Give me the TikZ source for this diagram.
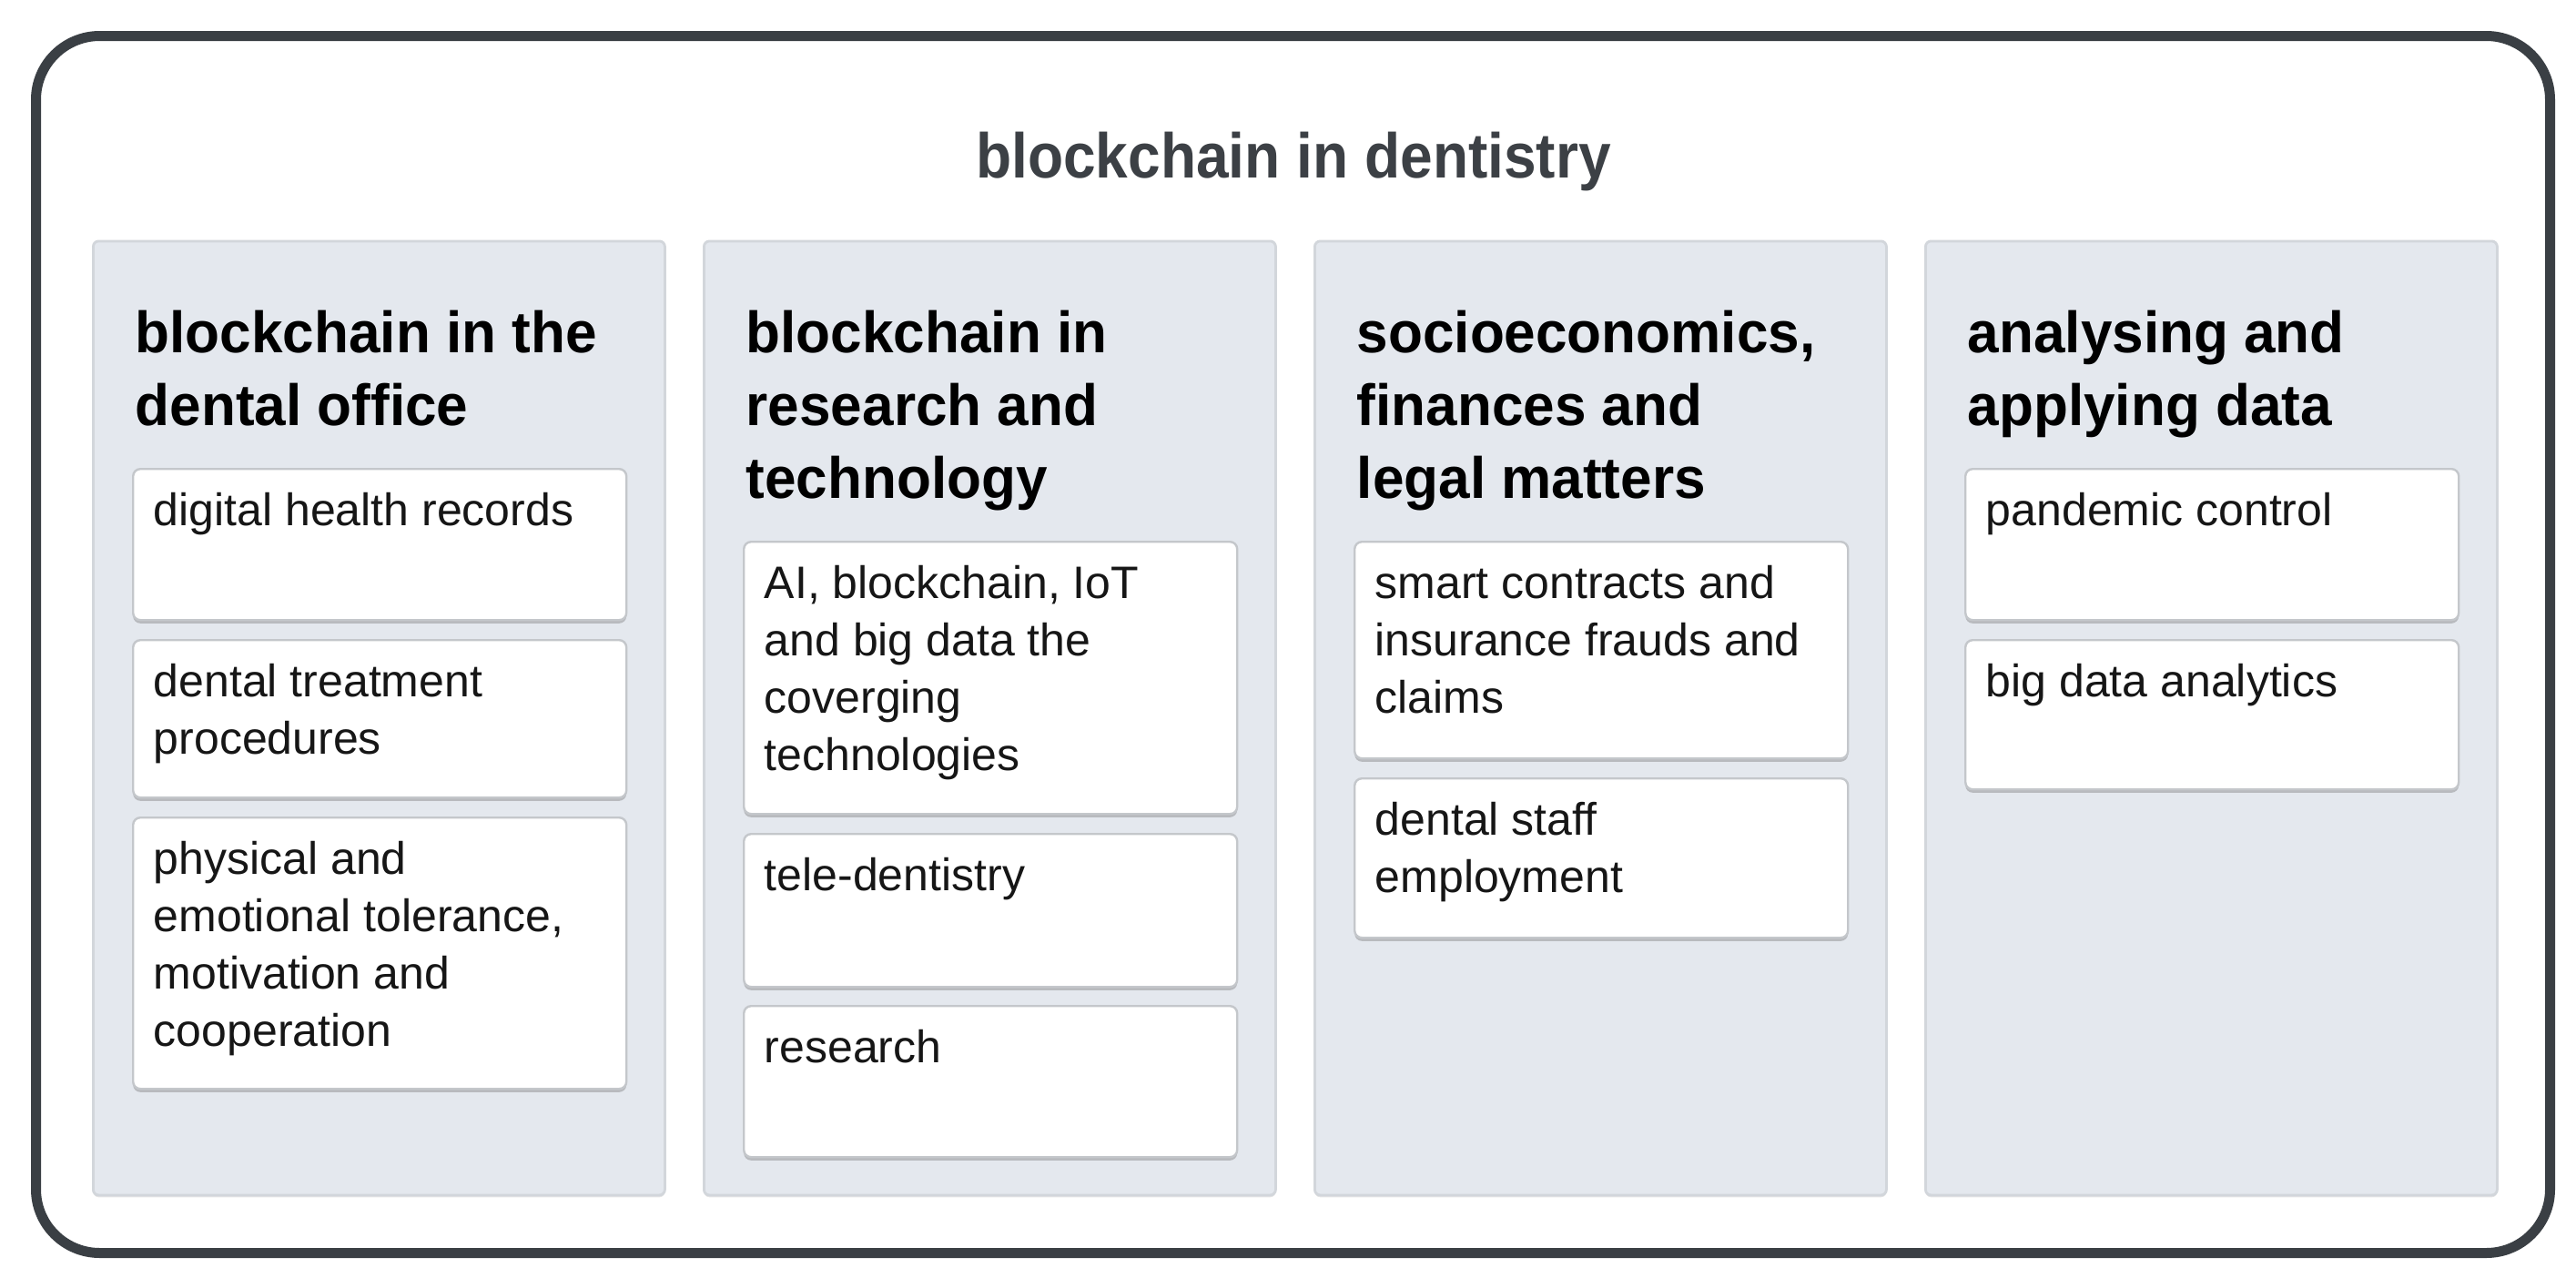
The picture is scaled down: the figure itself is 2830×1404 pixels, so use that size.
\documentclass[tikz,border=0pt]{standalone}
\usepackage{fontspec}
\setmainfont{Liberation Sans}
\newfontfamily\titlefont{Liberation Sans}[FakeStretch=0.92]
\newfontfamily\headfont{Liberation Sans}[FakeStretch=0.97]
\usetikzlibrary{shadows}
\definecolor{framecol}{HTML}{3A3F44}
\definecolor{colfill}{HTML}{E4E8EE}
\definecolor{colline}{HTML}{D2D6DB}
\definecolor{cardline}{HTML}{C4C7CB}
\definecolor{titlecol}{HTML}{3C4045}
\definecolor{txtcol}{HTML}{161616}
\newcommand{\headtxt}[1]{\parbox[t]{150pt}{\raggedright\headfont\fontsize{16pt}{20pt}\selectfont\bfseries #1}}
\newcommand{\cardtxt}[1]{\parbox[t]{130pt}{\raggedright\fontsize{12.5pt}{15.75pt}\selectfont #1}}
\newcommand{\mycard}[5]{%
  \node[cardbox, minimum height=#4] (#1) at (#2,#3) {};
  \node[cardtext] (#1-t) at ([xshift=5.75pt, yshift=-15.75pt]#1.north west) {\cardtxt{#5}};
}
\begin{document}
\begin{tikzpicture}[x=0.25pt,y=-0.25pt,
  frame/.style={draw=framecol, line width=2.75pt, rounded corners=17.5pt, fill=white,
    inner sep=0pt, anchor=north west, minimum width=690.5pt, minimum height=334.25pt},
  colbox/.style={fill=colfill, draw=colline, line width=0.7pt, rounded corners=1.5pt,
    minimum width=157pt, minimum height=262pt, anchor=north west, inner sep=0pt,
    drop shadow={shadow xshift=0pt, shadow yshift=-0.6pt, opacity=0.2}},
  cardbox/.style={fill=white, draw=cardline, line width=0.6pt, rounded corners=2pt,
    minimum width=135.5pt, anchor=north west, inner sep=0pt,
    drop shadow={shadow xshift=0pt, shadow yshift=-0.9pt, opacity=0.35, fill=black!60}},
  cardtext/.style={anchor=base west, inner sep=0pt, text=txtcol},
  headtext/.style={anchor=base west, inner sep=0pt, text=black},
  titletext/.style={anchor=base, inner sep=0pt, text=titlecol,
    font=\titlefont\bfseries\fontsize{17.4pt}{20pt}\selectfont}]
\useasboundingbox (0,0) rectangle (2830,1404);
\node[frame] (frame) at (34,34) {};
\node[titletext] (title) at (1421,195.5) {blockchain in dentistry};

% columns
\node[colbox] (c1) at (101,263.5) {};
\node[colbox] (c2) at (772,263.5) {};
\node[colbox] (c3) at (1443,263.5) {};
\node[colbox] (c4) at (2114,263.5) {};

% headings
\node[headtext] (h1) at (148,387) {\headtxt{blockchain in the\\dental office}};
\node[headtext] (h2) at (819,387) {\headtxt{blockchain in\\research and\\technology}};
\node[headtext] (h3) at (1490,387) {\headtxt{socioeconomics,\\finances and\\legal matters}};
\node[headtext] (h4) at (2161,387) {\headtxt{analysing and\\applying data}};

% column 1
\mycard{a1}{145}{514}{41.5pt}{digital health records}
\mycard{a2}{145}{702}{43.25pt}{dental treatment\\procedures}
\mycard{a3}{145}{897}{74.5pt}{physical and\\emotional tolerance,\\motivation and\\cooperation}
% column 2
\mycard{b1}{816}{594}{74.75pt}{AI, blockchain, IoT\\and big data the\\coverging\\technologies}
\mycard{b2}{816}{915}{42pt}{tele-dentistry}
\mycard{b3}{816}{1104}{41.5pt}{research}
% column 3
\mycard{d1}{1487}{594}{59.5pt}{smart contracts and\\insurance frauds and\\claims}
\mycard{d2}{1487}{854}{43.75pt}{dental staff\\employment}
% column 4
\mycard{e1}{2158}{514}{41.5pt}{pandemic control}
\mycard{e2}{2158}{702}{41pt}{big data analytics}
\end{tikzpicture}
\end{document}
